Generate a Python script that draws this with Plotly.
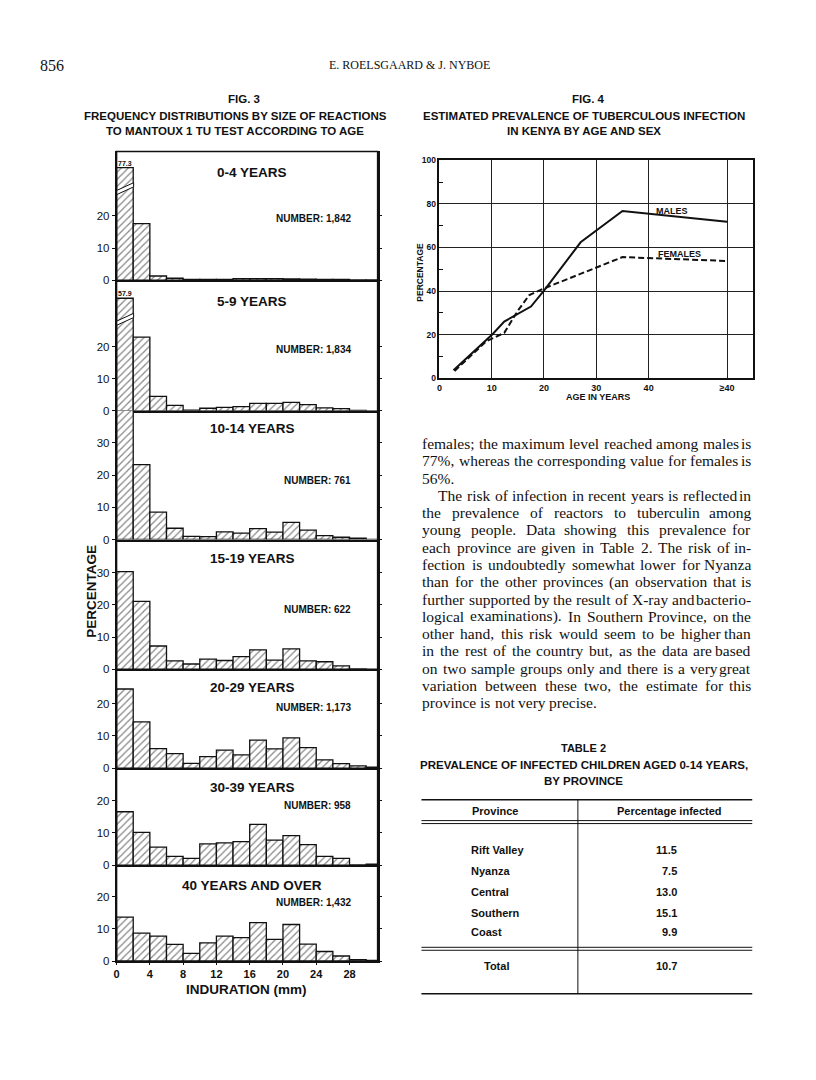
import plotly.graph_objects as go

W, H = 816, 1080
SANS = "Liberation Sans, Arial, sans-serif"
SERIF = "Liberation Serif, Times New Roman, serif"

# ---------------- Fig. 3 data: % of children by induration (2 mm classes) ----------------
induration_mid = [1, 3, 5, 7, 9, 11, 13, 15, 17, 19, 21, 23, 25, 27, 29, 31]
induration_ticks = [0, 4, 8, 12, 16, 20, 24, 28]
age_groups = ["0-4 YEARS", "5-9 YEARS", "10-14 YEARS", "15-19 YEARS",
              "20-29 YEARS", "30-39 YEARS", "40 YEARS AND OVER"]
sample_sizes = ["1,842", "1,834", "761", "622", "1,173", "958", "1,432"]
pct_0_4 = [77.3, 17.6, 1.3, 0.6, 0.2, 0.2, 0.2, 0.5, 0.5, 0.5, 0.4, 0.3, 0.2, 0.2, 0.1, 0.1]
pct_5_9 = [57.9, 22.9, 4.5, 1.7, 0.2, 0.8, 1.1, 1.3, 2.3, 2.3, 2.6, 1.9, 0.9, 0.7, 0.1, 0.0]
pct_10_14 = [42.2, 23.3, 8.5, 3.5, 1.0, 0.9, 2.4, 2.0, 3.4, 2.3, 5.3, 2.9, 1.2, 0.7, 0.4, 0.0]
pct_15_19 = [30.3, 21.1, 7.2, 2.6, 1.6, 3.1, 2.7, 3.9, 6.0, 2.8, 6.3, 2.6, 2.3, 1.0, 0.1, 0.0]
pct_20_29 = [24.6, 14.4, 6.1, 4.5, 1.5, 3.6, 5.6, 4.1, 8.7, 6.0, 9.4, 6.4, 2.6, 1.4, 0.7, 0.3]
pct_30_39 = [16.6, 10.2, 5.6, 2.7, 2.1, 6.6, 6.9, 7.3, 12.7, 7.8, 9.2, 6.4, 2.7, 2.1, 0.1, 0.3]
pct_40_plus = [13.7, 8.7, 7.8, 5.2, 2.4, 5.7, 7.8, 7.3, 12.0, 6.8, 11.4, 5.3, 3.0, 1.6, 0.5, 0.2]
percent_ticks = [[0, 10, 20], [0, 10, 20], [0, 10, 20, 30], [0, 10, 20, 30],
                 [0, 10, 20], [0, 10, 20], [0, 10, 20]]

# ---------------- Fig. 4 data: prevalence by age and sex ----------------
male_age = [2.7, 10.2, 12.4, 15, 17.5, 20, 25, 27, 35, 55]
male_pct = [3.6, 20.3, 26, 29.5, 32.9, 40.2, 56.4, 62.4, 76.8, 71.8]
female_age = [2.9, 9, 12.4, 15, 17.2, 20, 35, 55]
female_pct = [3.3, 17, 20.8, 31, 38.2, 41.2, 55.6, 53.8]
age_tickvals = [0, 10, 20, 30, 40, 55]
age_ticktext = ["0", "10", "20", "30", "40", "≥40"]
prev_tickvals = [0, 20, 40, 60, 80, 100]

# ---------------- Table 2 data ----------------
provinces = ["Rift Valley", "Nyanza", "Central", "Southern", "Coast"]
pct_infected = ["11.5", "7.5", "13.0", "15.1", "9.9"]
total_value = "10.7"

# ---------------- body text ----------------
body_lines = [
    ("females; the maximum level reached among males is", True, False),
    ("77%, whereas the corresponding value for females is", True, False),
    ("56%.", False, False),
    ("The risk of infection in recent years is reflected in", True, True),
    ("the prevalence of reactors to tuberculin among", True, False),
    ("young people.  Data showing this prevalence for", True, False),
    ("each province are given in Table 2.  The risk of in-", True, False),
    ("fection is undoubtedly somewhat lower for Nyanza", True, False),
    ("than for the other provinces (an observation that is", True, False),
    ("further supported by the result of X-ray and bacterio-", True, False),
    ("logical examinations).  In Southern Province, on the", True, False),
    ("other hand, this risk would seem to be higher than", True, False),
    ("in the rest of the country but, as the data are based", True, False),
    ("on two sample groups only and there is a very great", True, False),
    ("variation between these two, the estimate for this", True, False),
    ("province is not very precise.", False, False),
]


def fx(x):
    return x / W


def fy(y):
    return 1 - y / H


annotations = []
shapes = []


def note(text, x, y, size, family=SANS, weight="normal", xanchor="center", yanchor="middle", **kw):
    annotations.append(dict(
        text=text, x=fx(x), y=fy(y), xref="paper", yref="paper", showarrow=False,
        xanchor=xanchor, yanchor=yanchor,
        font=dict(family=family, size=size, color="#111", weight=weight), **kw))


def hline(x0, x1, y, width=1.2):
    shapes.append(dict(type="line", xref="paper", yref="paper", x0=fx(x0), x1=fx(x1),
                       y0=fy(y), y1=fy(y), line=dict(color="#111", width=width)))


def vline(x, y0, y1, width=1.2):
    shapes.append(dict(type="line", xref="paper", yref="paper", x0=fx(x), x1=fx(x),
                       y0=fy(y0), y1=fy(y1), line=dict(color="#111", width=width)))


fig = go.Figure()
layout = {}

# ---------------- Fig. 3 : stacked histograms ----------------
panel_px = [(148, 278), (278, 410), (410, 540), (540, 671), (671, 771), (771, 869), (869, 966)]
title_y = [169, 300, 428, 559, 690, 791, 890]
number_y = [216, 348, 480, 611, 710, 809, 907]
PX_PER_PCT = 3.25
X0, X1 = 114, 376
MM_MAX = (X1 - X0) / 8.35
BREAK_TOP = 35
series = [pct_0_4, pct_5_9, pct_10_14, pct_15_19, pct_20_29, pct_30_39, pct_40_plus]

for i, vals in enumerate(series):
    n = i + 1
    sfx = "" if n == 1 else str(n)
    top, bot = panel_px[i]
    ymax = (bot - top) / PX_PER_PCT
    shown = [BREAK_TOP if v > ymax + 5 else v for v in vals]
    fig.add_trace(go.Bar(
        x=induration_mid, y=shown, width=2, xaxis="x" + sfx, yaxis="y" + sfx,
        showlegend=False, hoverinfo="skip",
        marker=dict(color="white", line=dict(color="#111", width=1.3),
                    pattern=dict(shape="/", fgcolor="#111", bgcolor="white",
                                 size=5, solidity=0.25, fillmode="overlay")),
    ))
    last = n == len(series)
    layout["xaxis" + sfx] = dict(
        domain=[fx(X0), fx(X1)], range=[0, MM_MAX], anchor="y" + sfx,
        showline=True, linecolor="#111", linewidth=1.5, showgrid=False, zeroline=False,
        tickvals=induration_ticks if last else [], showticklabels=last,
        ticks="outside" if last else "", ticklen=2, tickcolor="#111",
        tickfont=dict(family=SANS, size=11, color="#111", weight="bold"),
    )
    layout["yaxis" + sfx] = dict(
        domain=[fy(bot), fy(top)], range=[0, ymax], anchor="x" + sfx,
        showline=True, linecolor="#111", linewidth=1.5, mirror="ticks",
        showgrid=False, zeroline=False, tickvals=percent_ticks[i],
        ticks="outside", ticklen=3, tickcolor="#111",
        tickfont=dict(family=SANS, size=11.5, color="#111"),
    )
    for xm, v in zip(induration_mid, vals):
        if v > ymax + 5:
            annotations.append(dict(
                text=f"{v}", x=xm, y=BREAK_TOP, xref="x" + sfx, yref="y" + sfx,
                showarrow=False, yanchor="bottom", yshift=-1,
                font=dict(family=SANS, size=7, color="#111", weight="bold")))
            shapes.append(dict(
                type="path", xref="x" + sfx, yref="y" + sfx,
                path=f"M {xm - 1.15},26.4 L {xm + 1.05},29 L {xm + 1.05},30.3 L {xm - 1.15},27.7 Z",
                fillcolor="white", line=dict(color="#111", width=1)))
    note(age_groups[i], 250, title_y[i], 13.5, weight="bold")
    note(f"NUMBER: {sample_sizes[i]}", 351, number_y[i], 10, weight="bold", xanchor="right")

shapes.append(dict(type="rect", xref="paper", yref="paper", x0=fx(X0), x1=fx(X1),
                   y0=fy(966), y1=fy(148), line=dict(color="#111", width=1.5)))
note("PERCENTAGE", 89, 592, 13.5, weight="bold", textangle=-90)
note("INDURATION (mm)", 244, 995, 13.5, weight="bold")

# ---------------- Fig. 4 : line chart ----------------
fig.add_trace(go.Scatter(x=male_age, y=male_pct, mode="lines", xaxis="x8", yaxis="y8",
                         line=dict(color="#111", width=2), showlegend=False, hoverinfo="skip"))
fig.add_trace(go.Scatter(x=female_age, y=female_pct, mode="lines", xaxis="x8", yaxis="y8",
                         line=dict(color="#111", width=2, dash="6px,3px"),
                         showlegend=False, hoverinfo="skip"))
layout["xaxis8"] = dict(
    domain=[fx(438), fx(753)], range=[0, 60], anchor="y8",
    tickvals=age_tickvals, ticktext=age_ticktext, ticks="", showgrid=True,
    gridcolor="#222", gridwidth=1, showline=True, mirror=True, linecolor="#111",
    linewidth=1.5, zeroline=False,
    tickfont=dict(family=SANS, size=9, color="#111", weight="bold"),
)
layout["yaxis8"] = dict(
    domain=[fy(377), fy(157)], range=[0, 100], anchor="x8",
    tickvals=prev_tickvals, ticks="", showgrid=True, gridcolor="#222", gridwidth=1,
    showline=True, mirror=True, linecolor="#111", linewidth=1.5, zeroline=False,
    tickfont=dict(family=SANS, size=8.5, color="#111", weight="bold"),
    minor=dict(tickvals=[10, 30, 50, 70, 90], ticks="inside", ticklen=4,
               tickcolor="#111", showgrid=False),
)
annotations.append(dict(text="MALES", x=44.5, y=76.8, xref="x8", yref="y8", showarrow=False,
                        font=dict(family=SANS, size=9, color="#111", weight="bold")))
annotations.append(dict(text="FEMALES", x=46, y=56.8, xref="x8", yref="y8", showarrow=False,
                        font=dict(family=SANS, size=9, color="#111", weight="bold")))
note("PERCENTAGE", 419, 270, 8.5, weight="bold", textangle=-90)
note("AGE IN YEARS", 597, 396, 9, weight="bold")

# ---------------- page header and figure titles ----------------
note("856", 35, 61, 16, family=SERIF, xanchor="left")
note("E. ROELSGAARD &amp; J. NYBOE", 408, 61, 12, family=SERIF)
note("FIG. 3", 242, 95, 11.5, weight="bold")
note("FREQUENCY DISTRIBUTIONS BY SIZE OF REACTIONS", 233, 112, 11.5, weight="bold")
note("TO MANTOUX 1 TU TEST ACCORDING TO AGE", 233, 127, 11.5, weight="bold")
note("FIG. 4", 588, 95, 11.5, weight="bold")
note("ESTIMATED PREVALENCE OF TUBERCULOUS INFECTION", 583, 112, 11.5, weight="bold")
note("IN KENYA BY AGE AND SEX", 583, 127, 11.5, weight="bold")

# ---------------- justified body text ----------------
TIMES_W = dict(zip("abcdefghijklmnopqrstuvwxyz",
                   [444, 500, 444, 500, 444, 333, 500, 500, 278, 278, 500, 278, 778,
                    500, 500, 500, 500, 333, 389, 278, 500, 500, 722, 500, 500, 444]))
TIMES_W.update(zip("ABCDEFGHIJKLMNOPQRSTUVWXYZ",
                   [722, 667, 667, 722, 611, 556, 722, 722, 333, 389, 722, 611, 889,
                    722, 722, 556, 722, 667, 556, 611, 722, 722, 944, 722, 722, 611]))
TIMES_W.update({c: 500 for c in "0123456789"})
TIMES_W.update({" ": 250, ",": 250, ".": 250, ";": 278, ":": 278, "-": 333,
                "(": 333, ")": 333, "%": 833})
BODY_SIZE = 15.5
TXT_L, TXT_R, INDENT = 420, 752, 16


def text_w(s):
    return sum(TIMES_W.get(c, 500) for c in s) * BODY_SIZE / 1000.0


for k, (line, justify, indent) in enumerate(body_lines):
    y = 443 + k * 17.47
    left = TXT_L + (INDENT if indent else 0)
    words = line.split()
    widths = [text_w(w) for w in words]
    if justify and len(words) > 1:
        gap = (TXT_R - left - sum(widths)) / (len(words) - 1)
    else:
        gap = text_w(" ")
    xpos = left
    for j, (w, ww) in enumerate(zip(words, widths)):
        if justify and j == len(words) - 1:
            note(w, TXT_R, y, BODY_SIZE, family=SERIF, xanchor="right", borderpad=0)
        else:
            note(w, xpos, y, BODY_SIZE, family=SERIF, xanchor="left", borderpad=0)
        xpos += ww + gap

# ---------------- Table 2 ----------------
note("TABLE 2", 583, 751, 11, weight="bold")
note("PREVALENCE OF INFECTED CHILDREN AGED 0-14 YEARS,", 583, 768, 11.5, weight="bold")
note("BY PROVINCE", 583, 784, 11.5, weight="bold")
hline(420, 752, 803, 1.5)
hline(420, 752, 824, 1)
hline(420, 752, 827, 1)
hline(420, 752, 952, 1)
hline(420, 752, 955, 1)
hline(420, 752, 999, 1.5)
vline(577, 803, 999, 1)
note("Province", 494, 814, 11, weight="bold")
note("Percentage infected", 669, 814, 11, weight="bold")
row_y = [854, 875, 896, 917, 937]
for name, val, yy in zip(provinces, pct_infected, row_y):
    note(name, 468, yy, 11, weight="bold", xanchor="left")
    note(val, 678, yy, 11, weight="bold", xanchor="right")
note("Total", 495, 971, 11, weight="bold")
note(total_value, 678, 971, 11, weight="bold", xanchor="right")

fig.update_layout(
    width=W, height=H, margin=dict(l=0, r=0, t=0, b=0),
    paper_bgcolor="white", plot_bgcolor="white", showlegend=False,
    annotations=annotations, shapes=shapes, **layout,
)
# drop the browser's default 8px body margin so the page is exactly 816x1080
fig.write_html("out.html", config={"displayModeBar": False},
               post_script="document.body.style.margin='0';document.body.style.overflow='hidden';")
